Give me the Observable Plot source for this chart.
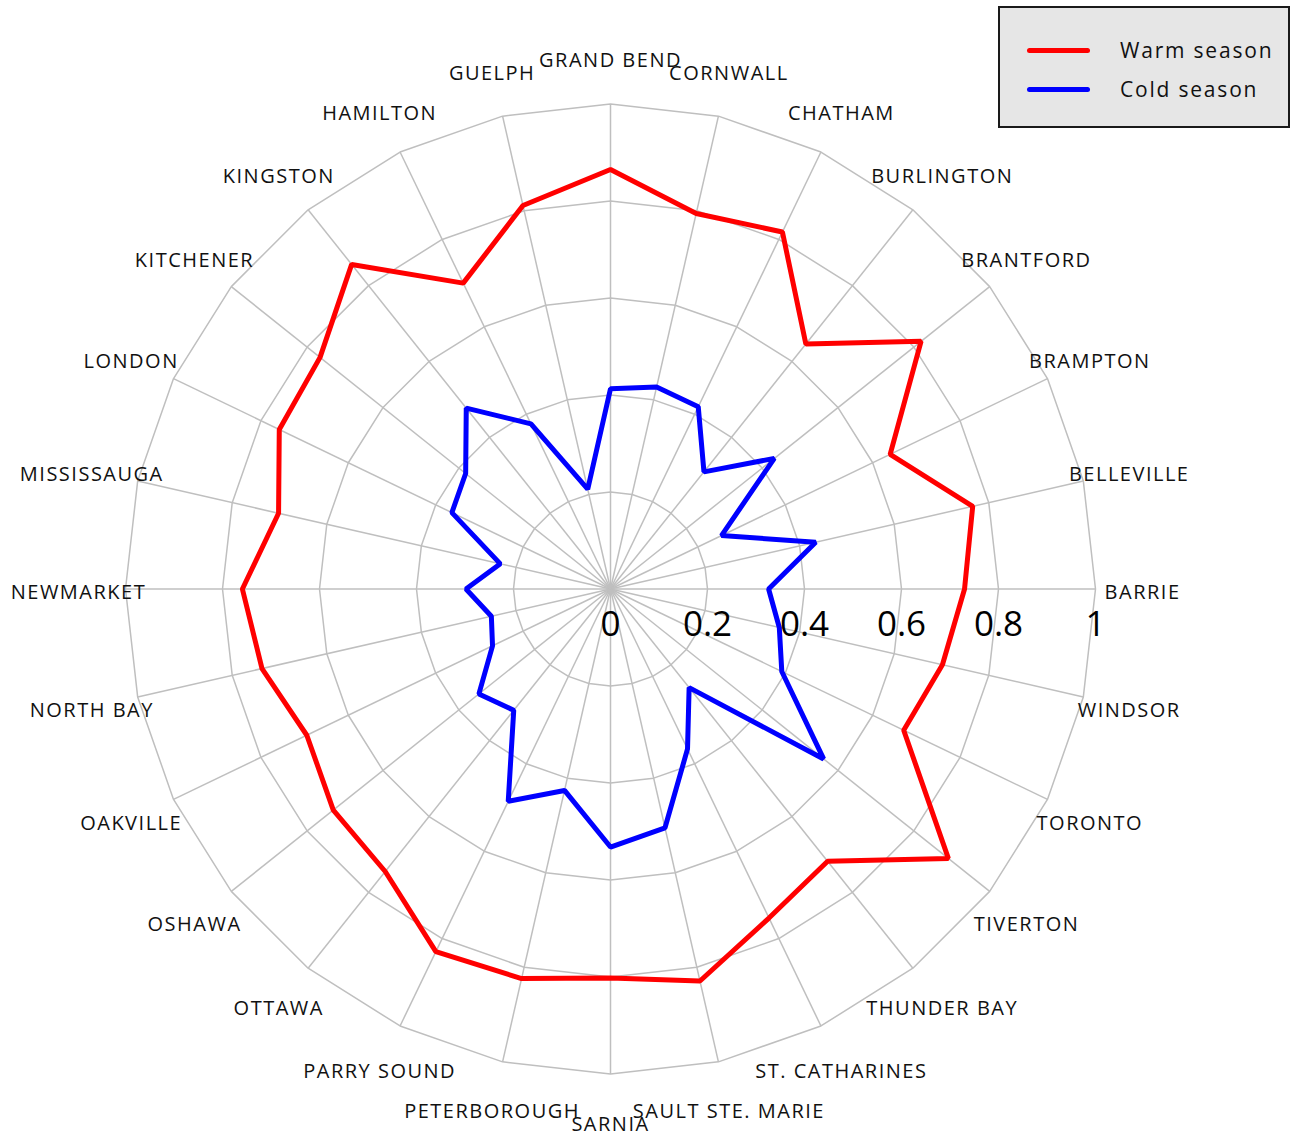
<!DOCTYPE html>
<html>
<head>
<meta charset="utf-8">
<script src="https://cdn.jsdelivr.net/npm/d3@7"></script>
<script src="https://cdn.jsdelivr.net/npm/@observablehq/plot@0.6"></script>
<style>
  html, body { margin: 0; padding: 0; background: white; }
  #wrap { position: relative; width: 1291px; height: 1139px; }
  #legend {
    position: absolute; left: 998px; top: 6px; width: 288px; height: 118px;
    background: #e6e6e6; border: 2px solid #1a1a1a; box-sizing: content-box;
    font-family: "Open Sans", sans-serif; font-size: 21px; letter-spacing: 1.8px; color: #111;
  }
  #legend .row { position: absolute; left: 0; height: 30px; display: flex; align-items: center; }
  #legend .sw { position: absolute; left: 27px; width: 63px; height: 5px; border-radius: 3px; }
  #legend .lb { position: absolute; left: 120px; white-space: nowrap; }
</style>
</head>
<body>
<div id="wrap">
  <div id="chart"></div>
  <div id="legend"></div>
</div>
<script>
// Categories clockwise from the top
const categories = ["GRAND BEND","CORNWALL","CHATHAM","BURLINGTON","BRANTFORD","BRAMPTON","BELLEVILLE","BARRIE","WINDSOR","TORONTO","TIVERTON","THUNDER BAY","ST. CATHARINES","SAULT STE. MARIE","SARNIA","PETERBOROUGH","PARRY SOUND","OTTAWA","OSHAWA","OAKVILLE","NORTH BAY","NEWMARKET","MISSISSAUGA","LONDON","KITCHENER","KINGSTON","HAMILTON","GUELPH"];
const warmSeason = [0.865,0.794,0.817,0.646,0.819,0.640,0.766,0.730,0.702,0.671,0.891,0.718,0.753,0.829,0.802,0.824,0.830,0.745,0.731,0.695,0.737,0.759,0.702,0.758,0.766,0.856,0.700,0.811];
const coldSeason = [0.413,0.427,0.417,0.309,0.432,0.254,0.434,0.326,0.357,0.392,0.562,0.260,0.366,0.505,0.532,0.426,0.486,0.320,0.347,0.270,0.252,0.298,0.233,0.363,0.382,0.477,0.378,0.211];
const tickValues = [0, 0.2, 0.4, 0.6, 0.8, 1];
const gridLevels = [0.2, 0.4, 0.6, 0.8, 1];
const seriesNames = ["Warm season", "Cold season"];
const seriesColors = ["#ff0000", "#0000ff"];

const n = categories.length;
const ang = i => 2 * Math.PI * i / n;
const px = (r, i) => r * Math.sin(ang(i));
const py = (r, i) => r * Math.cos(ang(i));

const rows = categories.map((c, i) => ({c, i, warm: warmSeason[i], cold: coldSeason[i]}));
const ringData = gridLevels.flatMap(l => categories.map((c, i) => ({l, i})));

const chart = Plot.plot({
  width: 1291,
  height: 1139,
  margin: 0,
  axis: null,
  style: {fontFamily: "'Open Sans', sans-serif", background: "white", color: "black"},
  x: {domain: [-1, 1], range: [610 - 485, 610 + 485]},
  y: {domain: [-1, 1], range: [588.5 + 485, 588.5 - 485]},
  marks: [
    Plot.line(ringData, {x: d => px(d.l, d.i), y: d => py(d.l, d.i), z: "l", curve: "linear-closed", stroke: "#bfbfbf", strokeWidth: 1.5}),
    Plot.link(rows, {x1: 0, y1: 0, x2: d => px(1, d.i), y2: d => py(1, d.i), stroke: "#bfbfbf", strokeWidth: 1.5}),
    Plot.line(rows, {x: d => px(d.cold, d.i), y: d => py(d.cold, d.i), curve: "linear-closed", stroke: seriesColors[1], strokeWidth: 5, strokeLinejoin: "miter"}),
    Plot.line(rows, {x: d => px(d.warm, d.i), y: d => py(d.warm, d.i), curve: "linear-closed", stroke: seriesColors[0], strokeWidth: 5, strokeLinejoin: "miter"}),
    Plot.text(tickValues, {x: d => d, y: 0, dy: 36, text: d => String(d), fontSize: 35, fill: "black", textAnchor: "middle"}),
    Plot.text(rows, {x: d => px(1.097, d.i), y: d => py(1.097, d.i), dy: 3.5, text: "c", fontSize: 20, fill: "#111", textAnchor: "middle"})
  ]
});
// widen the category labels' letter spacing (last text mark)
const textGroups = chart.querySelectorAll('g[aria-label="text"]');
const catGroup = textGroups[textGroups.length - 1];
if (catGroup) catGroup.querySelectorAll("text").forEach(t => t.style.letterSpacing = "1.5px");
document.getElementById("chart").appendChild(chart);

const legend = document.getElementById("legend");
seriesNames.forEach((name, k) => {
  const row = document.createElement("div");
  row.className = "row";
  row.style.top = (27 + k * 39) + "px";
  row.style.width = "100%";
  const sw = document.createElement("div");
  sw.className = "sw";
  sw.style.background = seriesColors[k];
  const lb = document.createElement("div");
  lb.className = "lb";
  lb.textContent = name;
  row.appendChild(sw);
  row.appendChild(lb);
  legend.appendChild(row);
});
</script>
</body>
</html>
